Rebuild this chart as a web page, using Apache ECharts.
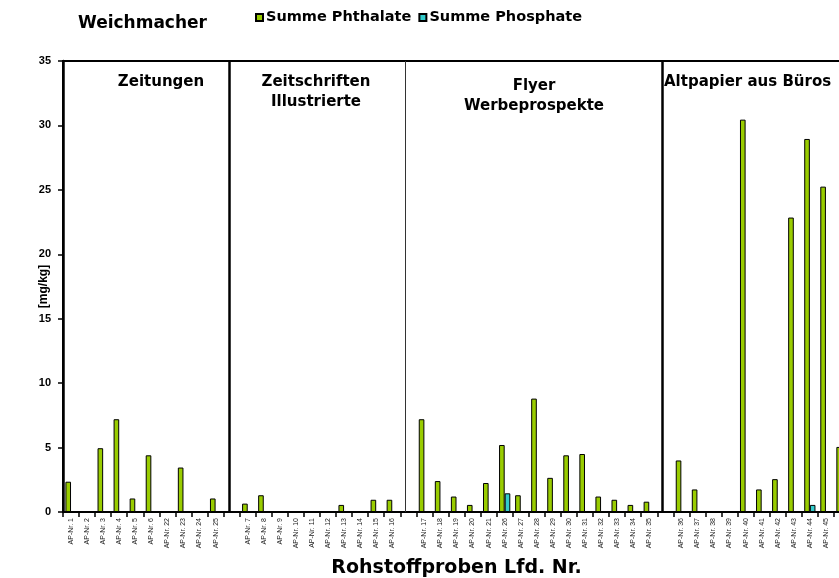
<!DOCTYPE html>
<html>
<head>
<meta charset="utf-8">
<script src="https://cdn.jsdelivr.net/npm/echarts@6/dist/echarts.min.js"></script>
<style>
html,body{margin:0;padding:0;background:#fff;}
#chart{width:839px;height:578px;}
</style>
</head>
<body>
<div id="chart"></div>
<script>
// ---- data ----
const categories = [
  'AP-Nr. 1','AP-Nr. 2','AP-Nr. 3','AP-Nr. 4','AP-Nr. 5','AP-Nr. 6','AP-Nr. 22','AP-Nr. 23','AP-Nr. 24','AP-Nr. 25',
  ' ',
  'AP-Nr. 7','AP-Nr. 8','AP-Nr. 9','AP-Nr. 10','AP-Nr. 11','AP-Nr. 12','AP-Nr. 13','AP-Nr. 14','AP-Nr. 15','AP-Nr. 16',
  '  ',
  'AP-Nr. 17','AP-Nr. 18','AP-Nr. 19','AP-Nr. 20','AP-Nr. 21','AP-Nr. 26','AP-Nr. 27','AP-Nr. 28','AP-Nr. 29','AP-Nr. 30','AP-Nr. 31','AP-Nr. 32','AP-Nr. 33','AP-Nr. 34','AP-Nr. 35',
  '   ',
  'AP-Nr. 36','AP-Nr. 37','AP-Nr. 38','AP-Nr. 39','AP-Nr. 40','AP-Nr. 41','AP-Nr. 42','AP-Nr. 43','AP-Nr. 44','AP-Nr. 45','AP-Nr. 46'
];
const phthalate = [
  2.35, null, 4.95, 7.2, 1.05, 4.4, null, 3.45, null, 1.05,
  null,
  0.65, 1.3, null, null, null, null, 0.55, null, 0.95, 0.95,
  null,
  7.2, 2.4, 1.2, 0.55, 2.25, 5.2, 1.3, 8.8, 2.65, 4.4, 4.5, 1.2, 0.95, 0.55, 0.8,
  null,
  4.0, 1.75, null, null, 30.45, 1.75, 2.55, 22.85, 28.95, 25.25, 5.05
];
const phosphate = [
  null, null, null, null, null, null, null, null, null, null,
  null,
  null, null, null, null, null, null, null, null, null, null,
  null,
  null, null, null, null, null, 1.45, null, null, null, null, null, null, null, null, null,
  null,
  null, null, null, null, null, null, null, null, 0.55, null, null
];
const separatorIndex = [10, 21, 37];
const groupTitles = [
  ['Zeitungen'],
  ['Zeitschriften', 'Illustrierte'],
  ['Flyer', 'Werbeprospekte'],
  ['Altpapier aus Büros']
];
const seriesNames = ['Summe Phthalate', 'Summe Phosphate'];
const yTicks = {min: 0, max: 35, interval: 5};

// ---- chart ----
const chart = echarts.init(document.getElementById('chart'), null, {renderer: 'canvas'});
const F = '"DejaVu Sans", sans-serif';
const FA = '"Liberation Sans", Arial, sans-serif';

function groupText(lines, x, y, align) {
  return lines.map((t, i) => ({
    type: 'text', x: x, y: y + i * 20, silent: true,
    style: {text: t, fill: '#000', font: 'bold 15px ' + F, textAlign: align || 'center', textVerticalAlign: 'middle'}
  }));
}

const option = {
  animation: false,
  backgroundColor: '#fff',
  title: {
    text: 'Weichmacher', left: 78, top: 15, padding: 0,
    textStyle: {fontFamily: F, fontWeight: 'bold', fontSize: 17, color: '#000'}
  },
  legend: {
    data: seriesNames, left: 255, top: 10, padding: 0, icon: 'rect', itemWidth: 7, itemHeight: 7, itemGap: 7,
    textStyle: {fontFamily: F, fontWeight: 'bold', fontSize: 14.5, color: '#000', padding: [0,0,0,-2]}
  },
  grid: {
    left: 63, top: 61, width: 787, height: 451,
    outerBoundsMode: 'none',
    show: true, borderColor: '#000', borderWidth: 2, containLabel: false
  },
  xAxis: {
    type: 'category', data: categories, boundaryGap: true,
    name: 'Rohstoffproben Lfd. Nr.', nameLocation: 'middle', nameGap: 47, nameMoveOverlap: false,
    nameTextStyle: {fontFamily: F, fontWeight: 'bold', fontSize: 19, color: '#000'},
    axisLine: {lineStyle: {color: '#000', width: 2}},
    axisTick: {show: true, interval: 0, length: 5, lineStyle: {color: '#000', width: 1.5}},
    axisLabel: {interval: 0, rotate: 90, fontSize: 7, fontFamily: FA, color: '#222', margin: 6},
    splitLine: {show: false}
  },
  yAxis: {
    type: 'value', min: yTicks.min, max: yTicks.max, interval: yTicks.interval,
    name: '[mg/kg]', nameLocation: 'middle', nameRotate: 90, nameGap: 13, nameMoveOverlap: false,
    nameTextStyle: {fontFamily: FA, fontWeight: 'bold', fontSize: 12, color: '#000'},
    axisLine: {show: true, lineStyle: {color: '#000', width: 2.5}},
    axisTick: {show: true, length: 5, lineStyle: {color: '#000', width: 1.5}},
    axisLabel: {fontFamily: FA, fontWeight: 'bold', fontSize: 11, color: '#000', margin: 12},
    splitLine: {show: false}
  },
  series: [
    {
      name: seriesNames[0], type: 'bar', data: phthalate,
      barGap: '0%', barCategoryGap: '30%',
      itemStyle: {color: '#99cc00', borderColor: '#000', borderWidth: 1},
      markLine: {
        silent: true, symbol: 'none', label: {show: false},
        data: separatorIndex.map((idx, i) => ({
          xAxis: idx,
          lineStyle: {color: i === 1 ? '#333' : '#000', width: i === 1 ? 1 : 2.5, type: 'solid'}
        }))
      }
    },
    {
      name: seriesNames[1], type: 'bar', data: phosphate,
      barGap: '0%', barCategoryGap: '30%',
      itemStyle: {color: '#33cccc', borderColor: '#000', borderWidth: 1}
    }
  ],
  graphic: [].concat(
    groupText(groupTitles[0], 161, 82),
    groupText(groupTitles[1], 316, 82),
    groupText(groupTitles[2], 534, 86),
    groupText(groupTitles[3], 664, 82, 'left')
  )
};
chart.setOption(option);
</script>
</body>
</html>
